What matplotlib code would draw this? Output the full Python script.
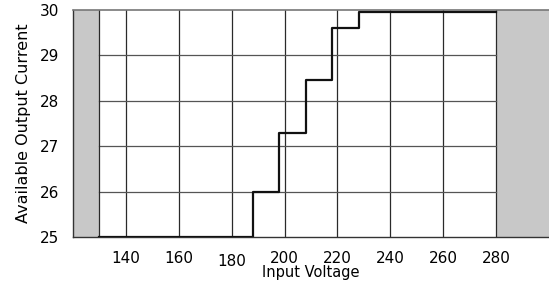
import matplotlib.pyplot as plt
import numpy as np

# step edges (input voltage) and current level after each edge
voltage = [130, 188, 198, 208, 218, 228, 280]
current = [25.0, 26.0, 27.3, 28.45, 29.6, 29.96, 29.96]

xticks = [140, 160, 180, 200, 220, 240, 260, 280]
yticks = [25, 26, 27, 28, 29, 30]

fig = plt.figure(figsize=(5.49, 2.85), dpi=100)
ax = fig.add_axes([0.133, 0.168, 0.867, 0.797])

ax.set_xlim(120, 300)
ax.set_ylim(25, 30)

# shaded out-of-range regions
ax.axvspan(120, 130, color="#c8c8c8", zorder=0, lw=0)
ax.axvspan(280, 300, color="#c8c8c8", zorder=0, lw=0)

# grid inside the operating range
for v in xticks:
    ax.plot([v, v], [25, 30], color="#2a2a2a", lw=0.9, zorder=1)
for c in yticks[1:-1]:
    ax.plot([130, 280], [c, c], color="#555555", lw=0.9, zorder=1)
ax.plot([130, 130], [25, 30], color="#2a2a2a", lw=0.9, zorder=1)

ax.step(voltage, current, where="post", color="#111111", lw=1.6, zorder=3)

ax.set_xticks(xticks)
ax.set_yticks(yticks)
ax.tick_params(length=0, labelsize=11, pad=10)
ax.tick_params(axis="x", pad=10)
ax.get_xticklabels()[2].set_y(-0.015)

for s in ["left", "bottom"]:
    ax.spines[s].set_color("#333333")
    ax.spines[s].set_linewidth(1.0)
ax.spines["top"].set_color("#777777")
ax.spines["top"].set_linewidth(1.2)
ax.spines["right"].set_visible(False)

ax.set_xlabel("Input Voltage", fontsize=10.5, labelpad=-3)
ax.set_ylabel("Available Output Current", fontsize=11.5, labelpad=6)

fig.savefig("out.png", dpi=100)
